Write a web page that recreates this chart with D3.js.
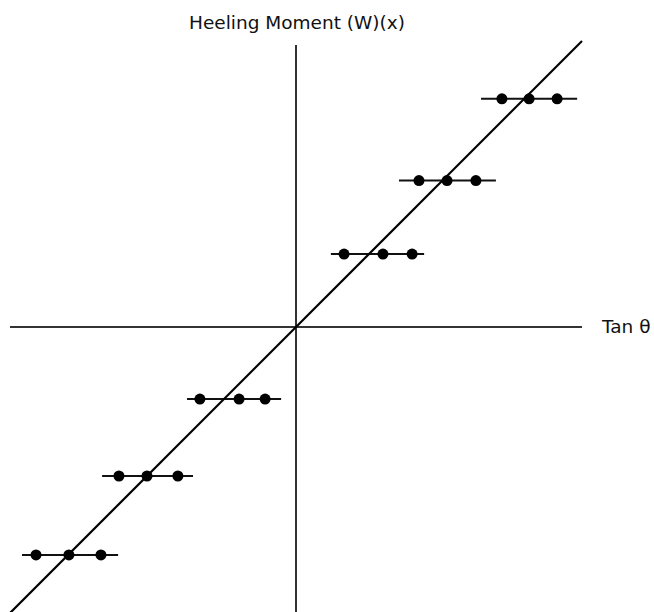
<!DOCTYPE html>
<html>
<head>
<meta charset="utf-8">
<script src="https://cdn.jsdelivr.net/npm/d3@7"></script>
<style>
  html, body { margin: 0; padding: 0; background: #fff; }
  svg { display: block; }
  text { font-family: "DejaVu Sans", Verdana, sans-serif; fill: #111; }
</style>
</head>
<body>
<svg id="chart"></svg>
<script>
// heeling moment vs tan theta, arbitrary units, origin at the axis cross
const levels = [7.98, 5.12, 2.55, -2.52, -5.21, -7.97];
const leftDots = [7.2, 4.3, 1.68, -3.36, -6.19, -9.09];
const midDots = [8.15, 5.28, 3.04, -1.99, -5.21, -7.94];
const rightDots = [9.13, 6.29, 4.06, -1.08, -4.13, -6.82];
const segStart = [6.47, 3.6, 1.22, -3.81, -6.78, -9.58];
const segEnd = [9.83, 6.99, 4.48, -0.52, -3.60, -6.22];
const fitLine = [[-10, -10], [10, 10]];

const width = 654;
const height = 612;
const svg = d3.select('#chart').attr('width', width).attr('height', height);

const x = d3.scaleLinear().domain([-10, 10]).range([10, 582]);
const y = d3.scaleLinear().domain([-10, 10]).range([613, 41]);

const groups = levels.map((v, i) => ({
  y: v,
  x0: segStart[i],
  x1: segEnd[i],
  dots: [leftDots[i], midDots[i], rightDots[i]]
}));

// axes
svg.append('line')
  .attr('x1', x(-10)).attr('x2', x(10))
  .attr('y1', y(0)).attr('y2', y(0))
  .attr('stroke', '#333').attr('stroke-width', 2);

svg.append('line')
  .attr('x1', x(0)).attr('x2', x(0))
  .attr('y1', 45).attr('y2', height)
  .attr('stroke', '#333').attr('stroke-width', 2);

// horizontal bars through each group
svg.append('g')
  .selectAll('line')
  .data(groups)
  .join('line')
  .attr('x1', d => x(d.x0))
  .attr('x2', d => x(d.x1))
  .attr('y1', d => y(d.y))
  .attr('y2', d => y(d.y))
  .attr('stroke', '#111')
  .attr('stroke-width', 2);

// fitted line
svg.append('path')
  .datum(fitLine)
  .attr('d', d3.line().x(d => x(d[0])).y(d => y(d[1])))
  .attr('fill', 'none')
  .attr('stroke', '#000')
  .attr('stroke-width', 2.2);

// points
svg.append('g')
  .selectAll('circle')
  .data(groups.flatMap(g => g.dots.map(dx => ({ x: dx, y: g.y }))))
  .join('circle')
  .attr('cx', d => x(d.x))
  .attr('cy', d => y(d.y))
  .attr('r', 5.5)
  .attr('fill', '#000');

svg.append('text')
  .attr('x', 297)
  .attr('y', 29)
  .attr('text-anchor', 'middle')
  .attr('font-size', 18.5)
  .text('Heeling Moment (W)(x)');

svg.append('text')
  .attr('x', 602)
  .attr('y', 333)
  .attr('font-size', 18.5)
  .text('Tan θ');
</script>
</body>
</html>
